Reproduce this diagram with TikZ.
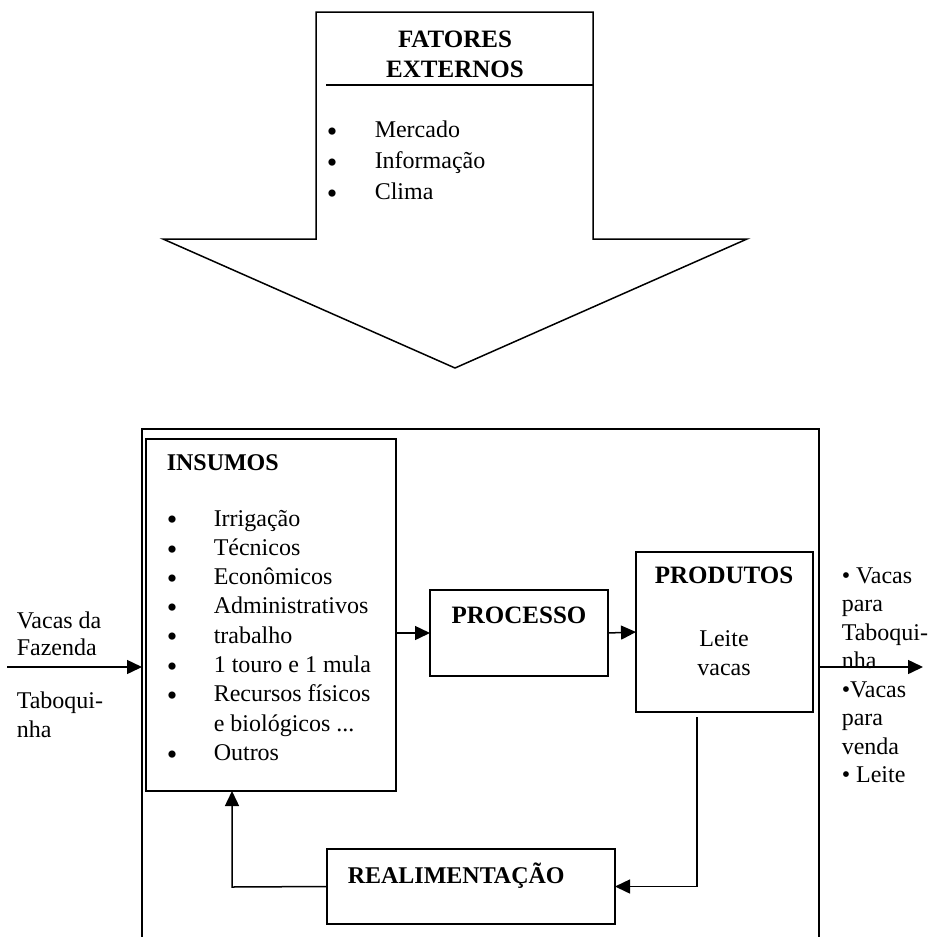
\documentclass[tikz,border=0pt]{standalone}
\usepackage{fontspec}
\setmainfont{Liberation Serif}
\usetikzlibrary{arrows.meta}
\begin{document}
\begin{tikzpicture}[x=1pt,y=-1pt,line width=1.5pt,
  box/.style={draw,rectangle,inner sep=0pt,outer sep=0pt},
  txt/.style={inner sep=0pt,anchor=base west,font=\fontsize{24}{29}\selectfont},
  ctxt/.style={inner sep=0pt,anchor=base,font=\fontsize{24}{29}\selectfont},
  btxt/.style={inner sep=0pt,anchor=base,font=\fontsize{25}{30}\selectfont\bfseries},
  bwtxt/.style={inner sep=0pt,anchor=base west,font=\fontsize{24}{29}\selectfont\bfseries},
  bul/.style={inner sep=0pt,anchor=center,font=\fontsize{30}{30}\selectfont},
  arr/.style={-{Triangle[length=15pt,width=14pt]},line width=1.5pt}]
\useasboundingbox (0,0) rectangle (932,937);

% big arrow: external factors
\draw[line join=miter] (316,12) -- (593,12) -- (593,239) -- (747,239) -- (455,368) -- (163,239) -- (316,239) -- cycle;
\draw (326,85) -- (593,85);
\node[btxt] (fat1) at (455,47) {FATORES};
\node[btxt] (fat2) at (455,77) {EXTERNOS};
\foreach \t [count=\i] in {Mercado,Informação,Clima}{
  \node[bul] (fb\i) at (332,135+31*\i-31) {\textbullet};
  \node[txt] (ft\i) at (374,137+31*\i-31) {\t};
}

% outer system box (open at bottom)
\draw (142,937) -- (142,429) -- (819,429) -- (819,937);

% boxes
\node[box,minimum width=250pt,minimum height=352pt] (insumos) at (271,615) {};
\node[box,minimum width=178pt,minimum height=86pt] (processo) at (519,633) {};
\node[box,minimum width=177pt,minimum height=160pt] (produtos) at (724.5,632) {};
\node[box,minimum width=288pt,minimum height=75pt] (realim) at (471,886.5) {};

% insumos text
\node[bwtxt] (instit) at (166,470) {INSUMOS};
\foreach \t [count=\i] in {Irrigação,Técnicos,Econômicos,Administrativos,trabalho,1 touro e 1 mula,Recursos físicos}{
  \node[txt] (it\i) at (213,526+29.3*\i-29.3) {\t};
  \node[bul] (ib\i) at (172,523+29.3*\i-29.3) {\textbullet};
}
\node[txt] (it8) at (213,731) {e biológicos ...};
\node[txt] (it9) at (213,760.5) {Outros};
\node[bul] (ib9) at (172,757.5) {\textbullet};

\node[btxt] (protit) at (519,623) {PROCESSO};
\node[btxt] (prodtit) at (724,583) {PRODUTOS};
\node[ctxt] (prod1) at (724,646) {Leite};
\node[ctxt] (prod2) at (724,675) {vacas};
\node[bwtxt] (realtit) at (347,883) {REALIMENTAÇÃO};

% left input text
\node[txt] (l1) at (16,628) {Vacas da};
\node[txt] (l2) at (16,655) {Fazenda};
\node[txt] (l3) at (16,708) {Taboqui-};
\node[txt] (l4) at (16,737) {nha};

% right output text
\foreach \t [count=\i] in {\textbullet\ Vacas,para,Taboqui-,nha,\textbullet Vacas,para,venda,\textbullet\ Leite}{
  \node[txt] (r\i) at (841,583+28.5*\i-28.5) {\t};
}

% connectors
\coordinate (inS) at (7,667);
\coordinate (inE) at (142,667);
\draw[arr] (inS) -- (inE);
\draw[arr] (insumos.east |- processo.west) -- (processo.west);
\draw[arr] (processo.east) -- (produtos.west);
\coordinate (outS) at (819,667);
\coordinate (outE) at (923,667);
\draw[arr] (outS) -- (outE);
\coordinate (fbT) at (697,717);
\draw[arr] (fbT) |- (realim.east);
\coordinate (fbL) at (232,887);
\draw[arr] (realim.west) -- (fbL) -- (fbL |- insumos.south);
\end{tikzpicture}
\end{document}
